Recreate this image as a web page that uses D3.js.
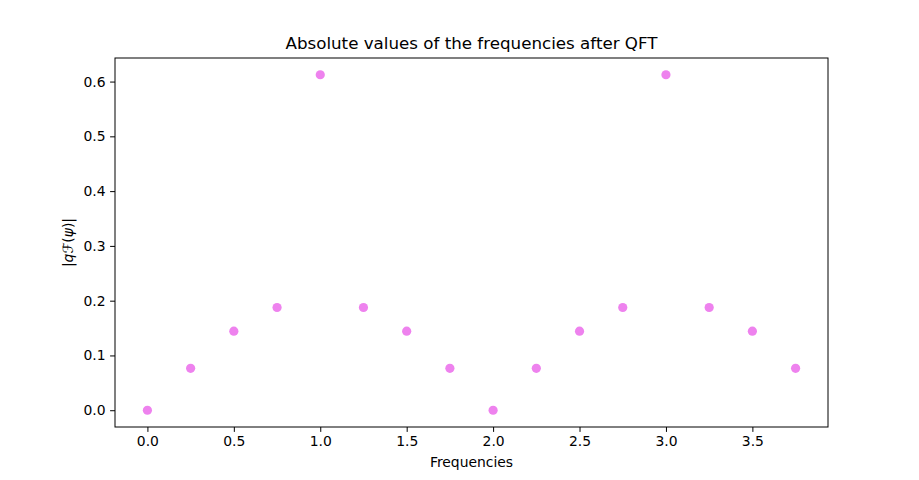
<!DOCTYPE html>
<html>
<head>
<meta charset="utf-8">
<script src="https://cdn.jsdelivr.net/npm/d3@7"></script>
<style>
  body { margin: 0; background: #fff; }
  svg { display: block; font-family: "DejaVu Sans", sans-serif; }
</style>
</head>
<body>
<div id="chart"></div>
<script>
// frequencies (x) and magnitudes |qF(psi)| (y)
const frequencies = [0, 0.25, 0.5, 0.75, 1, 1.25, 1.5, 1.75, 2, 2.25, 2.5, 2.75, 3, 3.25, 3.5, 3.75];
const magnitudes = [0, 0.0765, 0.1443, 0.1875, 0.6124, 0.1875, 0.1443, 0.0765,
                    0, 0.0765, 0.1443, 0.1875, 0.6124, 0.1875, 0.1443, 0.0765];
const xTicks = [0, 0.5, 1, 1.5, 2, 2.5, 3, 3.5];
const yTicks = [0, 0.1, 0.2, 0.3, 0.4, 0.5, 0.6];

const width = 919, height = 480;
const margin = { left: 115, right: 919 - 828, top: 58, bottom: 480 - 427 };

const svg = d3.select("#chart").append("svg")
    .attr("width", width)
    .attr("height", height);

// matplotlib-style 5% padding around data
const xMin = d3.min(frequencies), xMax = d3.max(frequencies);
const yMin = d3.min(magnitudes), yMax = d3.max(magnitudes);
const xPad = (xMax - xMin) * 0.05, yPad = (yMax - yMin) * 0.05;

const x = d3.scaleLinear()
    .domain([xMin - xPad, xMax + xPad])
    .range([margin.left, width - margin.right]);
const y = d3.scaleLinear()
    .domain([yMin - yPad, yMax + yPad])
    .range([height - margin.bottom, margin.top]);

const xAxis = svg.append("g")
    .attr("transform", `translate(0,${height - margin.bottom})`)
    .call(d3.axisBottom(x).tickValues(xTicks).tickFormat(d3.format(".1f")).tickSizeOuter(0).tickSize(4.9).tickPadding(4.5));
const yAxis = svg.append("g")
    .attr("transform", `translate(${margin.left},0)`)
    .call(d3.axisLeft(y).tickValues(yTicks).tickFormat(d3.format(".1f")).tickSizeOuter(0).tickSize(4.9).tickPadding(4.5));

[xAxis, yAxis].forEach(g => {
    g.select(".domain").remove();
    g.selectAll("text").attr("font-size", 13.9).attr("fill", "#000").attr("font-family", "DejaVu Sans");
    g.selectAll("line").attr("stroke", "#000").attr("stroke-width", 1);
});

// frame
svg.append("rect")
    .attr("x", margin.left)
    .attr("y", margin.top)
    .attr("width", width - margin.left - margin.right)
    .attr("height", height - margin.top - margin.bottom)
    .attr("fill", "none")
    .attr("stroke", "#000")
    .attr("stroke-width", 1);

// points
svg.append("g")
    .selectAll("circle")
    .data(frequencies)
    .join("circle")
    .attr("cx", d => x(d))
    .attr("cy", (d, i) => y(magnitudes[i]))
    .attr("r", 4.6)
    .attr("fill", "#ee82ee");

// title
svg.append("text")
    .attr("x", (margin.left + width - margin.right) / 2)
    .attr("y", 49)
    .attr("text-anchor", "middle")
    .attr("font-size", 16.7)
    .text("Absolute values of the frequencies after QFT");

// x label
svg.append("text")
    .attr("x", (margin.left + width - margin.right) / 2)
    .attr("y", 467)
    .attr("text-anchor", "middle")
    .attr("font-size", 13.9)
    .text("Frequencies");

// y label (mathtext-like)
const yl = svg.append("text")
    .attr("transform", `translate(73,${(margin.top + height - margin.bottom) / 2}) rotate(-90)`)
    .attr("text-anchor", "middle")
    .attr("font-size", 13.9);
yl.append("tspan").text("|");
yl.append("tspan").attr("font-style", "italic").text("q");
yl.append("tspan").attr("font-family", "DejaVu Sans").text("ℱ");
yl.append("tspan").text("(");
yl.append("tspan").attr("font-style", "italic").text("ψ");
yl.append("tspan").text(")|");
</script>
</body>
</html>
